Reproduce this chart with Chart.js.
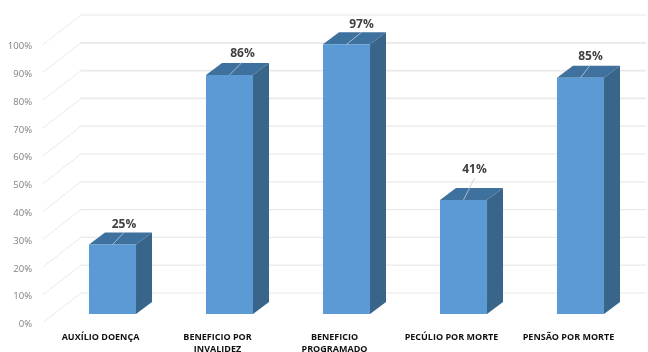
<!DOCTYPE html>
<html><head><meta charset="utf-8">
<style>html,body{margin:0;padding:0;background:#fff}canvas{display:block}</style>
<script src="https://cdn.jsdelivr.net/npm/chart.js@4"></script>
</head><body><canvas id="c" width="648" height="352" style="width:648px;height:352px"></canvas>
<script>
const categories = [["AUXÍLIO DOENÇA"],["BENEFICIO POR","INVALIDEZ"],["BENEFICIO","PROGRAMADO"],["PECÚLIO POR MORTE"],["PENSÃO POR MORTE"]];
const values = [25,86,97,41,85];
const tickValues = [0,10,20,30,40,50,60,70,80,90,100];

const wall = {dx:27, dy:-21, front:-11, frontDy:8.5, right:646};
const depth = {dx:16, dy:-12};
const labelNudge = [[11.5,-20],[13,-21],[15,-20],[11,-30],[10,-21]];

const scene3d = {
  id:'scene3d',
  beforeDatasetsDraw(chart){
    const {ctx,scales:{y},chartArea:a}=chart;
    const wx=a.left+wall.dx, fx=a.left+wall.front;
    ctx.save();
    ctx.strokeStyle='#e9e9e9';
    tickValues.forEach(v=>{
      const p=y.getPixelForValue(v);
      ctx.lineWidth=(v>=70&&v<=90)?1.8:1.2;
      ctx.beginPath();ctx.moveTo(wx,p+wall.dy);ctx.lineTo(wall.right,p+wall.dy);ctx.stroke();
      ctx.lineWidth=1;
      ctx.beginPath();ctx.moveTo(fx,p+wall.frontDy);ctx.lineTo(wx,p+wall.dy);ctx.stroke();
    });
    const m=chart.getDatasetMeta(0);
    m.data.forEach(b=>{
      const l=b.x-b.width/2,r=b.x+b.width/2,t=b.y,bt=b.base;
      ctx.fillStyle='#3f719f';
      ctx.beginPath();ctx.moveTo(l,t);ctx.lineTo(l+depth.dx,t+depth.dy);ctx.lineTo(r+depth.dx,t+depth.dy);ctx.lineTo(r,t);ctx.closePath();ctx.fill();
      ctx.fillStyle='#386589';
      ctx.beginPath();ctx.moveTo(r,t);ctx.lineTo(r+depth.dx,t+depth.dy);ctx.lineTo(r+depth.dx,bt+depth.dy);ctx.lineTo(r,bt);ctx.closePath();ctx.fill();
    });
    ctx.restore();
  },
  afterDatasetsDraw(chart){
    const {ctx}=chart;
    const m=chart.getDatasetMeta(0);
    ctx.save();
    m.data.forEach((b,i)=>{
      const [nx,ny]=labelNudge[i];
      const lx=b.x+nx,ly=b.y+ny;
      ctx.strokeStyle='rgba(190,205,220,.8)';ctx.lineWidth=1;
      ctx.beginPath();ctx.moveTo(b.x,b.y);ctx.lineTo(lx,ly+8);ctx.stroke();
      ctx.fillStyle='#404040';
      ctx.font='bold 12px "Open Sans"';
      ctx.textAlign='center';ctx.textBaseline='middle';
      ctx.fillText(values[i]+'%',lx,ly);
    });
    ctx.restore();
  }
};

new Chart(document.getElementById('c'),{
  type:'bar',
  data:{labels:categories,datasets:[{data:values,backgroundColor:'#5b9ad4',borderWidth:0,barPercentage:0.8,categoryPercentage:0.5025}]},
  plugins:[scene3d],
  options:{
    responsive:false,animation:false,devicePixelRatio:1,
    layout:{padding:{top:36,right:9,left:0,bottom:0}},
    plugins:{legend:{display:false},tooltip:{enabled:false},title:{display:false}},
    scales:{
      x:{
        afterFit(s){s.height=38},
        grid:{display:false,drawTicks:false},border:{display:false},
        ticks:{autoSkip:false,maxRotation:0,minRotation:0,padding:17.5,labelOffset:-12,color:'#111',font:{family:'"Open Sans"',size:9,weight:'bold',lineHeight:1.33}}
      },
      y:{
        min:0,max:100,
        afterFit(s){s.width=54},
        grid:{display:false,drawTicks:false},border:{display:false},
        ticks:{stepSize:10,padding:22,labelOffset:10.5,color:'#808080',font:{family:'"Open Sans"',size:9.5},callback:v=>v+'%'}
      }
    }
  }
});
</script></body></html>
